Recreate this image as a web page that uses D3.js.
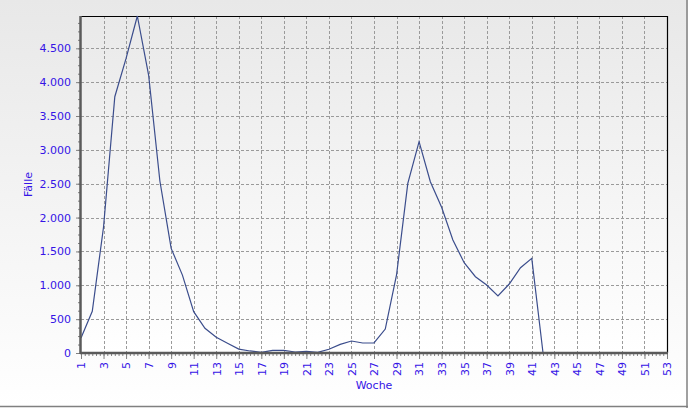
<!DOCTYPE html>
<html><head><meta charset="utf-8">
<script src="https://cdn.jsdelivr.net/npm/d3@7"></script>
<style>html,body{margin:0;padding:0;background:#fff;}svg{display:block;}</style>
</head><body><svg id="c" width="688" height="408"></svg>
<script>
const weeks = [1,2,3,4,5,6,7,8,9,10,11,12,13,14,15,16,17,18,19,20,21,22,23,24,25,26,27,28,29,30,31,32,33,34,35,36,37,38,39,40,41,42];
const cases = [220,615,1860,3785,4350,4977,4105,2540,1545,1150,610,365,232,143,57,30,10,40,40,15,25,10,55,128,177,148,148,354,1152,2506,3121,2530,2152,1669,1334,1127,1004,842,1019,1260,1398,0];
const yTicks = [0,500,1000,1500,2000,2500,3000,3500,4000,4500];
const xTicks = [1,3,5,7,9,11,13,15,17,19,21,23,25,27,29,31,33,35,37,39,41,43,45,47,49,51,53];

const svg = d3.select("#c");
const W=688,H=408, L=81, R=667, T=16, B=353;
const defs = svg.append("defs");
const g1 = defs.append("linearGradient").attr("id","bg").attr("x1",0).attr("y1",0).attr("x2",0).attr("y2",1);
g1.append("stop").attr("offset","0").attr("stop-color","#e8e8e8");
g1.append("stop").attr("offset","1").attr("stop-color","#ffffff");
const g2 = defs.append("linearGradient").attr("id","pbg").attr("x1",0).attr("y1",0).attr("x2",0).attr("y2",1);
g2.append("stop").attr("offset","0").attr("stop-color","#e9e9e9");
g2.append("stop").attr("offset","1").attr("stop-color","#ffffff");

svg.append("rect").attr("x",0).attr("y",0).attr("width",W).attr("height",H).attr("fill","url(#bg)");
svg.append("line").attr("x1",0).attr("x2",W).attr("y1",406.5).attr("y2",406.5).attr("stroke","#808080").attr("stroke-width",1.5);
svg.append("line").attr("x1",687).attr("x2",687).attr("y1",0).attr("y2",H).attr("stroke","#808080").attr("stroke-width",1.5);

const x = d3.scaleLinear().domain([1,53]).range([L,R]);
const y = d3.scaleLinear().domain([0,d3.max(cases)]).range([B,T]);

svg.append("rect").attr("x",L).attr("y",T).attr("width",R-L).attr("height",B-T).attr("fill","url(#pbg)");

// grid
const grid = svg.append("g").attr("stroke","#9a9a9a").attr("stroke-dasharray","3,2").attr("stroke-width",1);
xTicks.slice(1,-1).forEach(t=>grid.append("line").attr("x1",Math.round(x(t))+0.5).attr("x2",Math.round(x(t))+0.5).attr("y1",T).attr("y2",B));
yTicks.slice(1).forEach(t=>grid.append("line").attr("x1",L).attr("x2",R).attr("y1",Math.round(y(t))+0.5).attr("y2",Math.round(y(t))+0.5));

// top/right border
svg.append("path").attr("d",`M${L},${T+0.5}H${R+0.5}V${B}`).attr("fill","none").attr("stroke","#000").attr("stroke-width",1.2);

// line
const line = d3.line().x((d,i)=>x(weeks[i])).y(d=>y(d));
svg.append("path").datum(cases).attr("d",line).attr("fill","none").attr("stroke","#3b4d8c").attr("stroke-width",1.2);

const fmt = d3.formatLocale({decimal:",",thousands:".",grouping:[3],currency:["","€"]}).format(",d");
const lblColor = "#3514e6";
const font = "DejaVu Sans, Verdana, sans-serif";

// y axis
const yMinor = d3.range(0, d3.max(cases)+1, 125);
const yAx = svg.append("g").attr("transform",`translate(${L},0)`);
yAx.call(d3.axisLeft(y).tickValues(yMinor).tickSize(3).tickFormat(""));
yAx.call(g=>g.selectAll(".tick line").attr("stroke","#808080"));
const yMaj = svg.append("g").attr("transform",`translate(${L},0)`).call(d3.axisLeft(y).tickValues(yTicks).tickSize(5).tickPadding(5).tickFormat(fmt));
yMaj.selectAll(".tick line").attr("stroke","#808080");
yMaj.selectAll("text").attr("fill",lblColor).style("font-family",font).style("font-size","11px");
svg.selectAll(".domain").remove();

// x axis
const xMinor = d3.range(1, 53.001, 1/3);
const xAx = svg.append("g").attr("transform",`translate(0,${B})`);
xAx.call(d3.axisBottom(x).tickValues(xMinor).tickSize(3).tickFormat(""));
xAx.selectAll(".tick line").attr("stroke","#808080");
const xMaj = svg.append("g").attr("transform",`translate(0,${B})`).call(d3.axisBottom(x).tickValues(xTicks).tickSize(6).tickFormat(d3.format("d")));
xMaj.selectAll(".tick line").attr("stroke","#808080");
xMaj.selectAll("text").attr("fill",lblColor).style("font-family",font).style("font-size","11px")
  .attr("text-anchor","end").attr("transform","rotate(-90)").attr("x",-9).attr("y",0).attr("dy","0.35em");
svg.selectAll(".domain").remove();

// axis lines
svg.append("line").attr("x1",L-0.5).attr("x2",L-0.5).attr("y1",T).attr("y2",B+1).attr("stroke","#5a5a5a").attr("stroke-width",2.5);
svg.append("line").attr("x1",L-1).attr("x2",R+1).attr("y1",B).attr("y2",B).attr("stroke","#5a5a5a").attr("stroke-width",2.5);

svg.append("text").attr("x",(L+R)/2).attr("y",389).attr("text-anchor","middle").attr("fill",lblColor)
  .style("font-family",font).style("font-size","11px").text("Woche");
svg.append("text").attr("transform",`translate(32,${(T+B)/2}) rotate(-90)`).attr("text-anchor","middle").attr("fill",lblColor)
  .style("font-family",font).style("font-size","11px").text("Fälle");
</script></body></html>
